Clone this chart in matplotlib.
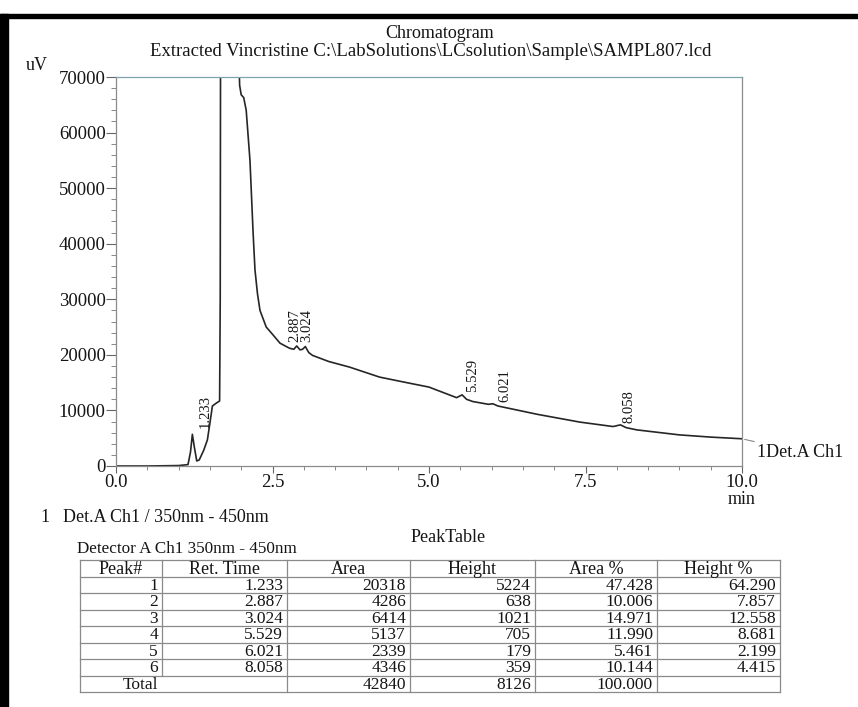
import matplotlib
matplotlib.use('Agg')
import matplotlib.pyplot as plt
from matplotlib.patches import Rectangle

plt.rcParams['font.family'] = ['Liberation Serif', 'DejaVu Serif']

# chromatogram trace (min, uV); the main peak is off scale
time_min = [0.0, 0.5, 1.0, 1.15, 1.19, 1.22, 1.25, 1.29, 1.33, 1.40, 1.46, 1.50, 1.54,
            1.60, 1.655, 1.665, 1.67, 1.96, 1.975, 2.0, 2.04, 2.08, 2.14, 2.19, 2.22,
            2.26, 2.30, 2.40, 2.50, 2.62, 2.77, 2.84, 2.887, 2.94, 2.98, 3.024, 3.08,
            3.14, 3.40, 3.73, 4.21, 4.60, 5.00, 5.44, 5.529, 5.60, 5.70, 5.95, 6.021,
            6.10, 6.73, 7.41, 7.94, 8.058, 8.15, 8.32, 9.00, 9.50, 10.0]
signal_uv = [0, 0, 80, 250, 2500, 5700, 3500, 900, 1100, 2800, 4700, 7700, 10800,
             11300, 11700, 30000, 75000, 75000, 68500, 66800, 66300, 64000, 55000, 42000, 35300,
             31000, 28000, 25000, 23700, 22100, 21200, 21000, 21600, 20900, 21000, 21500, 20400,
             19900, 18800, 17800, 16000, 15100, 14200, 12300, 12800, 12000, 11600, 11100, 11200,
             10800, 9300, 7900, 7100, 7400, 6900, 6500, 5600, 5200, 4900]

# peak table
peak_no = ['1', '2', '3', '4', '5', '6']
ret_time = [1.233, 2.887, 3.024, 5.529, 6.021, 8.058]
area = [20318, 4286, 6414, 5137, 2339, 4346]
height = [5224, 638, 1021, 705, 179, 359]
area_pct = [47.428, 10.006, 14.971, 11.990, 5.461, 10.144]
height_pct = [64.290, 7.857, 12.558, 8.681, 2.199, 4.415]
total_area = 42840
total_height = 8126
total_area_pct = 100.000

# where the rotated peak labels sit (min, uV)
label_x = [1.43, 2.865, 3.045, 5.70, 6.22, 8.20]
label_y = [6800, 22300, 22300, 13300, 11500, 7700]

ink = '#151515'
W, H = 858, 707
fig = plt.figure(figsize=(W / 100, H / 100), dpi=100)

# page overlay in pixel coordinates (scan frame, headings, table)
page = fig.add_axes([0, 0, 1, 1])
page.set_xlim(0, W)
page.set_ylim(H, 0)
page.axis('off')
page.add_patch(Rectangle((0, 14), W, 4, color='black'))
page.add_patch(Rectangle((0, 14), 8, H - 14, color='black'))

page.text(440, 33, 'Chromatogram', ha='center', va='center', fontsize=13, color=ink)
page.text(431, 51, r'Extracted Vincristine C:\LabSolutions\LCsolution\Sample\SAMPL807.lcd',
          ha='center', va='center', fontsize=13.5, color=ink)
page.text(26, 66, 'uV', ha='left', va='center', fontsize=13, color=ink)
page.text(40, 518, '1', ha='left', va='center', fontsize=13, color=ink)
page.text(63, 518, 'Det.A Ch1 / 350nm - 450nm', ha='left', va='center', fontsize=13, color=ink)
page.text(448, 537, 'PeakTable', ha='center', va='center', fontsize=13, color=ink)
page.text(77, 549, 'Detector A Ch1 350nm - 450nm', ha='left', va='center', fontsize=12.3, color=ink)

# table grid
cols = [80, 162, 287, 410, 535, 657, 780]
top = 560
rh = 16.5
nrows = len(peak_no) + 2
grid_c = '#8a8a8a'
for i in range(nrows + 1):
    page.plot([cols[0], cols[-1]], [top + i * rh, top + i * rh], color=grid_c, lw=0.9)
for i, c in enumerate(cols):
    if i == 1:
        page.plot([c, c], [top, top + (nrows - 1) * rh], color=grid_c, lw=0.9)
    else:
        page.plot([c, c], [top, top + nrows * rh], color=grid_c, lw=0.9)

headers = ['Peak#', 'Ret. Time', 'Area', 'Height', 'Area %', 'Height %']
for j, h in enumerate(headers):
    page.text((cols[j] + cols[j + 1]) / 2, top + rh / 2 + 1, h, ha='center', va='center',
              fontsize=13, color=ink)

rows = []
for k in range(len(peak_no)):
    rows.append([peak_no[k], f'{ret_time[k]:.3f}', str(area[k]), str(height[k]),
                 f'{area_pct[k]:.3f}', f'{height_pct[k]:.3f}'])
rows.append(['Total', '', str(total_area), str(total_height), f'{total_area_pct:.3f}', ''])
for r, row in enumerate(rows):
    y = top + (r + 1) * rh + rh / 2 + 1
    for j, v in enumerate(row):
        page.text(cols[j + 1] - 4, y, v, ha='right', va='center', fontsize=12.5, color=ink)

# chromatogram axes
ax = fig.add_axes([116 / W, 1 - 466 / H, (742 - 116) / W, (466 - 77) / H])
ax.plot(time_min, signal_uv, color='#262626', lw=1.2)
ax.set_xlim(0, 10)
ax.set_ylim(0, 70000)
ax.set_xticks([0, 2.5, 5, 7.5, 10])
ax.set_xticklabels(['0.0', '2.5', '5.0', '7.5', '10.0'])
ax.set_xticks([0.5 * i for i in range(21)], minor=True)
ax.set_yticks(range(0, 70001, 10000))
ax.set_yticks(range(0, 70001, 2000), minor=True)
ax.tick_params(axis='both', which='major', labelsize=13.5, colors='#666666', labelcolor=ink, width=0.8)
ax.tick_params(axis='y', which='major', length=7, pad=0.5)
ax.tick_params(axis='x', which='major', length=5, pad=1)
ax.tick_params(axis='y', which='minor', length=3.5, colors='#888888', width=0.7)
ax.tick_params(axis='x', which='minor', length=3, colors='#888888', width=0.7)
ax.spines['top'].set_color('#7fa3ab')
ax.spines['right'].set_color('#8c8c8c')
ax.spines['left'].set_color('#8c8c8c')
ax.spines['bottom'].set_color('#8c8c8c')
for s in ax.spines.values():
    s.set_linewidth(0.9)
ax.patch.set_alpha(0)

for k in range(len(ret_time)):
    ax.text(label_x[k], label_y[k], f'{ret_time[k]:.3f}', rotation=90, ha='center', va='bottom',
            fontsize=10.5, color=ink)

ax.annotate('1Det.A Ch1', xy=(time_min[-1], signal_uv[-1]), xytext=(10.24, 2500),
            ha='left', va='center', fontsize=13, color=ink, annotation_clip=False,
            arrowprops=dict(arrowstyle='-', color='#888888', lw=0.8, shrinkA=0, shrinkB=2))
ax.annotate('min', xy=(10, 0), xycoords=('data', 'axes fraction'), xytext=(0, -24),
            textcoords='offset points', ha='center', va='center', fontsize=13, color=ink)

fig.savefig('out.png', dpi=100, facecolor='white')
